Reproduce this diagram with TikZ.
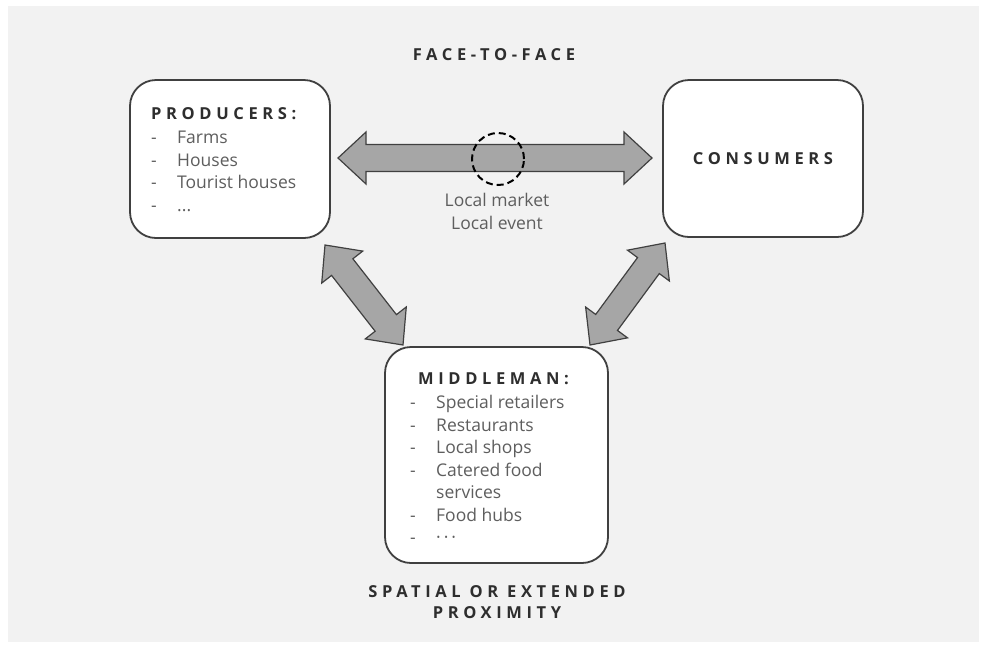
\documentclass[tikz,border=0pt]{standalone}
\usepackage{fontspec}
\setmainfont{Open Sans}
\newfontfamily\headfont[LetterSpace=28]{Open Sans}
\usetikzlibrary{calc}
\definecolor{panelgray}{HTML}{F2F2F2}
\definecolor{arrowgray}{HTML}{A6A6A6}
\definecolor{edgegray}{HTML}{404040}
\definecolor{headcol}{HTML}{2E2E2E}
\definecolor{textcol}{HTML}{5E5E5E}
\newcommand{\itm}[1]{\makebox[26pt][l]{-}#1}
\tikzset{
  actor/.style={draw=edgegray, line width=1.8pt, fill=white, rounded corners=26pt},
  heading/.style={font=\headfont\bfseries\fontsize{16.5}{21}\selectfont, text=headcol, inner sep=0pt},
  listtext/.style={font=\fontsize{17.5}{22.5}\selectfont, text=textcol, align=left, inner sep=0pt},
  blockarrow/.style={draw=edgegray, fill=arrowgray, line width=1.2pt, line join=miter,
    to path={let \p1=(\tikztostart), \p2=(\tikztotarget),
      \p3=($(\p1)!28pt!(\p2)$), \p4=($(\p2)!28pt!(\p1)$) in
      (\p1) -- ($(\p3)!26pt!90:(\p2)$) -- ($(\p3)!13.5pt!90:(\p2)$)
      -- ($(\p4)!13.5pt!-90:(\p1)$) -- ($(\p4)!26pt!-90:(\p1)$) -- (\p2)
      -- ($(\p4)!26pt!90:(\p1)$) -- ($(\p4)!13.5pt!90:(\p1)$)
      -- ($(\p3)!13.5pt!-90:(\p2)$) -- ($(\p3)!26pt!-90:(\p2)$) -- cycle}}
}
\begin{document}
\begin{tikzpicture}[x=1pt,y=-1pt]
    \useasboundingbox (0,0) rectangle (981,649);
    \fill[panelgray] (8,6) rectangle (979,642);

    \node[heading] (ftf) at (494,55) {FACE-TO-FACE};

    \node[actor, minimum width=200pt, minimum height=158pt] (prod) at (230,159) {};
    \node[actor, minimum width=200pt, minimum height=157pt] (cons) at (763,158.5) {};
    \node[actor, minimum width=223pt, minimum height=216pt] (mid) at (496.5,455) {};

    \node[heading, anchor=base west] (prodhead) at (151,119) {PRODUCERS:};
    \node[listtext, anchor=north west] (prodlist) at (151,131)
        {\itm{Farms}\\ \itm{Houses}\\ \itm{Tourist houses}\\ \itm{...}};

    \node[heading] (conshead) at (cons.center) {CONSUMERS};

    \node[heading, anchor=base west] (midhead) at (418,384) {MIDDLEMAN:};
    \node[listtext, anchor=north west] (midlist) at (410,395)
        {\itm{Special retailers}\\ \itm{Restaurants}\\ \itm{Local shops}\\
         \itm{Catered food}\\ \makebox[26pt]{}services\\ \itm{Food hubs}\\
         \itm{\textperiodcentered\,\textperiodcentered\,\textperiodcentered}};

    \coordinate (pl) at (338,158);
    \coordinate (cr) at (652,158);
    \draw[blockarrow] (pl) to (cr);
    \node[draw, circle, dash pattern=on 7pt off 4pt, line width=2pt,
        minimum size=52pt] (mkt) at (498,159) {};
    \node[listtext, align=center, anchor=north] (mktlabel) at (497,193)
        {Local market\\Local event};

    \coordinate (pm1) at (325,245);
    \coordinate (pm2) at (403,345);
    \draw[blockarrow] (pm1) to (pm2);
    \coordinate (cm1) at (665,243);
    \coordinate (cm2) at (590,345);
    \draw[blockarrow] (cm1) to (cm2);

    \node[heading, align=center] (prox) at (497,602) {SPATIAL OR EXTENDED\\PROXIMITY};
\end{tikzpicture}
\end{document}
